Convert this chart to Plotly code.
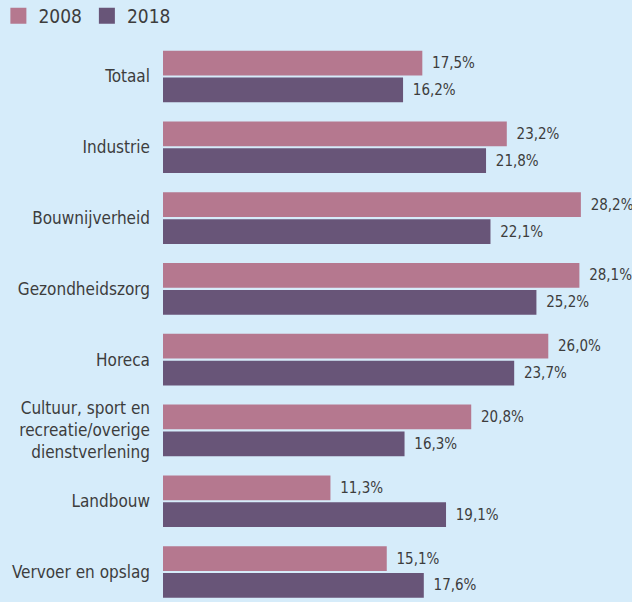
import plotly.graph_objects as go

categories = ["Totaal", "Industrie", "Bouwnijverheid", "Gezondheidszorg", "Horeca",
              "Cultuur, sport en<br>recreatie/overige<br>dienstverlening", "Landbouw",
              "Vervoer en opslag"]
values_2008 = [17.5, 23.2, 28.2, 28.1, 26.0, 20.8, 11.3, 15.1]
values_2018 = [16.2, 21.8, 22.1, 25.2, 23.7, 16.3, 19.1, 17.6]
series_names = ["2008", "2018"]
colors = ["#b5788f", "#685578"]

FONT = "Liberation Sans Narrow, DejaVu Sans Condensed, Roboto, sans-serif"
TXT = "#3d3d3d"
BG = "#d6ecfa"

def fmt(v):
    return "\u2002" + f"{v:.1f}".replace(".", ",") + "%"

fig = go.Figure()
for name, vals, col in zip(series_names, [values_2008, values_2018], colors):
    fig.add_trace(go.Bar(
        y=categories, x=vals, name=name, orientation="h",
        marker=dict(color=col, line=dict(width=0)),
        text=[fmt(v) for v in vals], textposition="outside",
        textfont=dict(family=FONT, size=15, color=TXT),
        cliponaxis=False, showlegend=False,
    ))
# legend entries with larger square swatches
for name, col in zip(series_names, colors):
    fig.add_trace(go.Scatter(
        x=[None], y=[None], mode="markers", name=name,
        marker=dict(symbol="square", size=16, color=col),
        showlegend=True,
    ))

fig.update_layout(
    width=632, height=602,
    margin=dict(l=163, r=0, t=40, b=0, autoexpand=False),
    paper_bgcolor=BG, plot_bgcolor=BG,
    barmode="group", bargap=0.24, bargroupgap=0.08,
    font=dict(family=FONT, color=TXT),
    showlegend=True,
    legend=dict(orientation="h", x=-0.351, xanchor="left", y=1.0427, yanchor="middle",
                font=dict(family=FONT, size=19, color=TXT), bgcolor="rgba(0,0,0,0)",
                itemwidth=30, traceorder="normal"),
    xaxis=dict(range=[0, 31.65], visible=False, fixedrange=True),
    yaxis=dict(type="category", categoryorder="array", categoryarray=categories,
               range=[7.4237, -0.5155], showgrid=False, zeroline=False, showline=False,
               ticks="", ticklabelstandoff=12, fixedrange=True,
               tickfont=dict(family=FONT, size=17, color=TXT)),
)

post = ("document.documentElement.style.margin='0';document.documentElement.style.padding='0';"
        "document.body.style.margin='0';document.body.style.padding='0';"
        "var d=document.getElementById('{plot_id}');d.style.position='absolute';"
        "d.style.left='0px';d.style.top='0px';")
fig.write_html("out.html", config={"displayModeBar": False}, post_script=post)
